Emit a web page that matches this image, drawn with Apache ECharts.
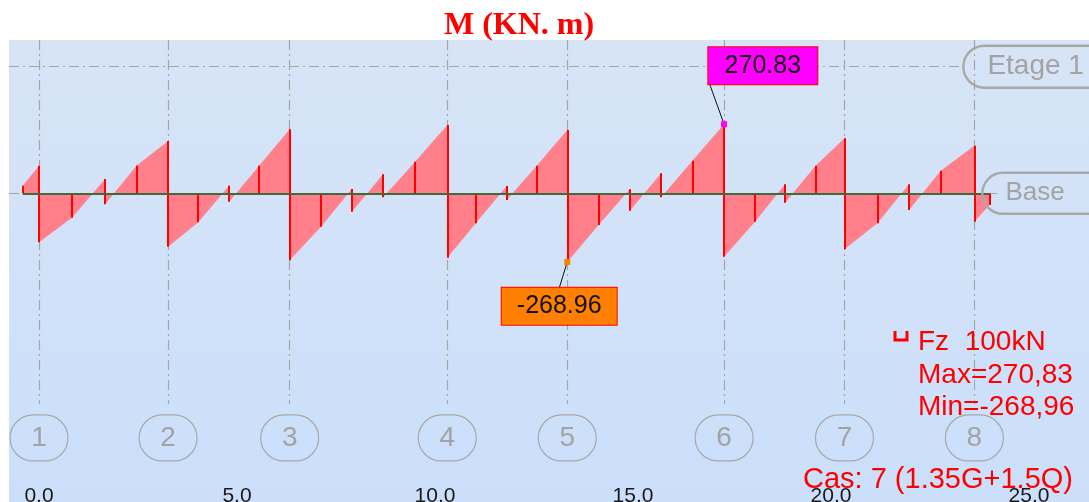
<!DOCTYPE html>
<html>
<head>
<meta charset="utf-8">
<script src="https://cdn.jsdelivr.net/npm/echarts@6/dist/echarts.min.js"></script>
<style>
  html, body { margin: 0; padding: 0; background: #fff; }
  #chart { width: 1089px; height: 502px; }
</style>
</head>
<body>
<div id="chart"></div>
<script>
// supports (axes 1..8), abscissa in m
const supportX = [0.0, 3.26, 6.33, 10.31, 13.34, 17.30, 20.34, 23.62];
const supportNames = ["1", "2", "3", "4", "5", "6", "7", "8"];

// moment diagram polyline (x in m, M in kN.m), repeated x = jump
const momentX = [-0.41, -0.41, 0.0, 0.0, 0.83, 1.67, 1.67, 2.46, 3.26,
  3.26, 4.02, 4.80, 4.80, 5.56, 6.33,
  6.33, 7.12, 7.90, 7.90, 8.69, 8.69, 9.50, 10.31,
  10.31, 11.03, 11.81, 11.81, 12.57, 13.34,
  13.34, 14.13, 14.92, 14.92, 15.71, 15.71, 16.50, 17.30,
  17.30, 18.08, 18.84, 18.84, 19.61, 20.34,
  20.34, 21.17, 21.97, 21.97, 22.77, 23.62,
  23.62, 24.00, 24.00];
const momentM = [0, 29.8, 108.2, -192.1, -95.6, 56.1, -43.1, 108.2, 205.0,
  -209.3, -113.7, 29.8, -32.9, 108.2, 250.9,
  -262.0, -130.9, 16.9, -72.1, 74.5, -15.7, 123.9, 267.7,
  -252.4, -117.6, 28.6, -26.3, 108.2, 248.1,
  -268.96, -124.3, 15.7, -68.2, 78.4, -15.7, 127.8, 270.83,
  -248.5, -111.3, 35.3, -36.8, 108.2, 215.6,
  -219.5, -117.6, 35.3, -65.5, 88.6, 186.6,
  -111.3, -45.9, 0];

// hatch ordinates inside the spans
const hatchX = [0.83, 2.46, 4.02, 5.56, 7.12, 9.50, 11.03, 12.57, 14.13, 16.50, 18.08, 19.61, 21.17, 22.77];
const hatchM = [-95.6, 108.2, -113.7, 108.2, -130.9, 123.9, -117.6, 108.2, -124.3, 127.8, -111.3, 108.2, -117.6, 88.6];

// extremes
const maxM = 270.83, maxX = 17.30;
const minM = -268.96, minX = 13.34;

// ruler ticks
const xTicks = [0, 5, 10, 15, 20, 25];

const FONT = '"Liberation Sans", Arial, sans-serif';
const GREY = "#a6a6a6";

const xMin = -0.758, xMax = 26.515;
const yMin = -1210, yMax = 601;
const etageLevel = 496.3;
const gridBottomLevel = -826;
const axisLabelLevel = -959;

const diagram = momentX.map((x, i) => [x, momentM[i]]);

// vertical red lines: jumps of the polyline + hatches
const redLines = [];
for (let i = 1; i < diagram.length; i++) {
  if (diagram[i][0] === diagram[i - 1][0]) {
    redLines.push({ coords: [diagram[i - 1], diagram[i]] });
  }
}
hatchX.forEach((x, i) => redLines.push({ coords: [[x, 0], [x, hatchM[i]]] }));

const gridLines = supportX.map(x => ({ coords: [[x, yMax], [x, gridBottomLevel]] }));
gridLines.push({ coords: [[xMin, etageLevel], [23.33, etageLevel]] });
gridLines.push({ coords: [[xMin, 0], [24.2, 0]] });

const chart = echarts.init(document.getElementById("chart"));
chart.setOption({
  animation: false,
  backgroundColor: "#ffffff",
  title: {
    text: "M (KN. m)",
    left: 439,
    top: 5,
    textStyle: { color: "#ff0000", fontFamily: '"Liberation Serif", "Times New Roman", serif', fontWeight: "bold", fontSize: 32 }
  },
  grid: {
    left: 9, right: 0, top: 40, bottom: 0,
    containLabel: false,
    outerBoundsMode: "none",
    show: true,
    borderWidth: 0,
    backgroundColor: new echarts.graphic.LinearGradient(0, 0, 0, 1, [
      { offset: 0, color: "#d7e4f6" },
      { offset: 1, color: "#cbdffb" }
    ])
  },
  xAxis: {
    type: "value",
    min: xMin,
    max: xMax,
    axisLine: { show: false },
    axisTick: { show: false },
    splitLine: { show: false },
    axisLabel: {
      customValues: xTicks,
      inside: true,
      margin: 16,
      verticalAlign: "top",
      color: "#1a1a1a",
      fontSize: 21,
      fontFamily: FONT,
      formatter: v => v.toFixed(1)
    }
  },
  yAxis: { type: "value", min: yMin, max: yMax, show: false },
  series: [
    {
      name: "grid",
      type: "lines",
      coordinateSystem: "cartesian2d",
      z: 1,
      silent: true,
      lineStyle: { color: GREY, width: 1.2, type: [10, 4, 2, 4], opacity: 1 },
      data: gridLines
    },
    {
      name: "M",
      type: "line",
      z: 2,
      showSymbol: false,
      data: diagram,
      lineStyle: { opacity: 0 },
      areaStyle: { color: "#ff7f8b", opacity: 1 }
    },
    {
      name: "ordinates",
      type: "lines",
      coordinateSystem: "cartesian2d",
      z: 3,
      lineStyle: { color: "#ff0000", width: 2, opacity: 1 },
      data: redLines
    },
    {
      name: "base",
      type: "lines",
      coordinateSystem: "cartesian2d",
      z: 4,
      lineStyle: { color: "#3d6b3d", width: 2, opacity: 1 },
      data: [{ coords: [[momentX[0], 0], [momentX[momentX.length - 1], 0]] }]
    },
    {
      name: "leaders",
      type: "lines",
      coordinateSystem: "cartesian2d",
      z: 5,
      lineStyle: { color: "#111", width: 1, opacity: 1 },
      data: [
        { coords: [[maxX, maxM], [16.944, 424.5]] },
        { coords: [[minX, minM], [13.139, -370.0]] }
      ]
    },
    {
      name: "extremes",
      type: "scatter",
      z: 6,
      symbol: "rect",
      symbolSize: 6,
      itemStyle: { opacity: 1 },
      data: [
        { value: [maxX, maxM], itemStyle: { color: "#ff00ff" } },
        { value: [minX, minM], itemStyle: { color: "#ff8000" } }
      ]
    },
    {
      name: "extremeLabels",
      type: "scatter",
      z: 7,
      symbolSize: 1,
      itemStyle: { color: "transparent", opacity: 1 },
      label: {
        show: true,
        position: "inside",
        color: "#111",
        fontSize: 25,
        fontFamily: FONT,
        lineHeight: 37,
        align: "center",
        verticalAlign: "middle",
        borderColor: "#ff0000",
        borderWidth: 1,
        formatter: p => p.data.text
      },
      data: [
        { value: [18.278, 499.8], text: maxM.toFixed(2), label: { backgroundColor: "#ff00ff", width: 109 } },
        { value: [13.136, -443], text: minM.toFixed(2), label: { backgroundColor: "#ff8000", width: 115 } }
      ]
    },
    {
      name: "axes",
      type: "scatter",
      z: 7,
      symbolSize: 1,
      itemStyle: { color: "transparent", opacity: 1 },
      label: {
        show: true,
        position: "inside",
        formatter: "{b}",
        color: "#a3a3a3",
        fontSize: 28,
        fontFamily: FONT,
        width: 58,
        lineHeight: 46,
        align: "center",
        verticalAlign: "middle",
        borderColor: "#a8a8a8",
        borderWidth: 1.2,
        borderRadius: 23
      },
      data: supportX.map((x, i) => ({ name: supportNames[i], value: [x, axisLabelLevel] }))
    },
    {
      name: "levels",
      type: "scatter",
      z: 7,
      symbolSize: 1,
      itemStyle: { color: "transparent", opacity: 1 },
      label: {
        show: true,
        position: "right",
        distance: 0,
        formatter: "{b}",
        color: "#a3a3a3",
        fontFamily: FONT,
        borderColor: "#a8a8a8",
        borderWidth: 1.2,
        borderRadius: 21,
        backgroundColor: "transparent"
      },
      data: [
        { name: "Etage 1", value: [23.33, etageLevel], label: { fontSize: 28, lineHeight: 28, padding: [7, 70, 7, 24] } },
        { name: "Base", value: [23.81, 0], label: { fontSize: 26, lineHeight: 27, padding: [7, 60, 7, 23] } }
      ]
    }
  ],
  graphic: [
    {
      type: "polyline",
      z: 100,
      shape: { points: [[895, 331], [895, 340], [907, 340], [907, 331]] },
      style: { stroke: "#ff0000", lineWidth: 3, fill: null }
    },
    { type: "text", x: 918, y: 342, z: 100, style: { text: "Fz  100kN", fill: "#ff0000", font: "28px " + FONT, verticalAlign: "middle" } },
    { type: "text", x: 918, y: 375, z: 100, style: { text: "Max=270,83", fill: "#ff0000", font: "28px " + FONT, verticalAlign: "middle" } },
    { type: "text", x: 918, y: 407, z: 100, style: { text: "Min=-268,96", fill: "#ff0000", font: "28px " + FONT, verticalAlign: "middle" } },
    { type: "text", x: 803, y: 480, z: 100, style: { text: "Cas: 7 (1.35G+1.5Q)", fill: "#ff0000", font: "29px " + FONT, verticalAlign: "middle" } }
  ]
});
</script>
</body>
</html>
